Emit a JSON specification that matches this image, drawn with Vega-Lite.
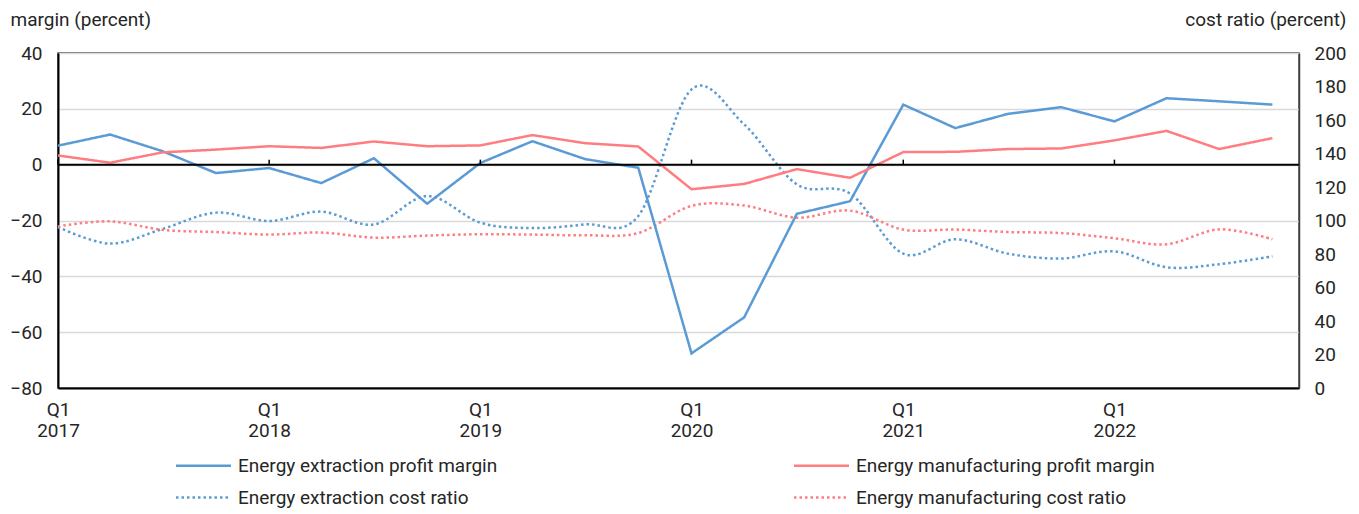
{
  "$schema": "https://vega.github.io/schema/vega-lite/v6.json",
  "width": 1241,
  "height": 335,
  "autosize": "none",
  "padding": {"left": 58, "top": 53, "right": 60, "bottom": 126},
  "background": "white",
  "config": {
    "font": "Roboto",
    "view": {"stroke": "#404040", "strokeWidth": 1.5},
    "axis": {"labelFont": "Roboto", "labelFontSize": 19, "labelColor": "#262626", "titleFont": "Roboto", "titleFontSize": 19, "titleFontWeight": "normal", "titleColor": "#262626"},
    "legend": {"labelFont": "Roboto", "labelFontSize": 19, "labelColor": "#262626", "labelLimit": 0}
  },
  "data": {
    "values": [
      {"date": "2017/01/01", "series": "Energy extraction profit margin", "value": 6.8},
      {"date": "2017/04/01", "series": "Energy extraction profit margin", "value": 10.8},
      {"date": "2017/07/01", "series": "Energy extraction profit margin", "value": 4.8},
      {"date": "2017/10/01", "series": "Energy extraction profit margin", "value": -3.0},
      {"date": "2018/01/01", "series": "Energy extraction profit margin", "value": -1.2},
      {"date": "2018/04/01", "series": "Energy extraction profit margin", "value": -6.6},
      {"date": "2018/07/01", "series": "Energy extraction profit margin", "value": 2.3},
      {"date": "2018/10/01", "series": "Energy extraction profit margin", "value": -14.0},
      {"date": "2019/01/01", "series": "Energy extraction profit margin", "value": 0.6},
      {"date": "2019/04/01", "series": "Energy extraction profit margin", "value": 8.4},
      {"date": "2019/07/01", "series": "Energy extraction profit margin", "value": 2.0},
      {"date": "2019/10/01", "series": "Energy extraction profit margin", "value": -1.1},
      {"date": "2020/01/01", "series": "Energy extraction profit margin", "value": -67.6},
      {"date": "2020/04/01", "series": "Energy extraction profit margin", "value": -54.7},
      {"date": "2020/07/01", "series": "Energy extraction profit margin", "value": -17.6},
      {"date": "2020/10/01", "series": "Energy extraction profit margin", "value": -13.1},
      {"date": "2021/01/01", "series": "Energy extraction profit margin", "value": 21.5},
      {"date": "2021/04/01", "series": "Energy extraction profit margin", "value": 13.1},
      {"date": "2021/07/01", "series": "Energy extraction profit margin", "value": 18.2},
      {"date": "2021/10/01", "series": "Energy extraction profit margin", "value": 20.6},
      {"date": "2022/01/01", "series": "Energy extraction profit margin", "value": 15.5},
      {"date": "2022/04/01", "series": "Energy extraction profit margin", "value": 23.8},
      {"date": "2022/07/01", "series": "Energy extraction profit margin", "value": 22.7},
      {"date": "2022/10/01", "series": "Energy extraction profit margin", "value": 21.5},
      {"date": "2017/01/01", "series": "Energy manufacturing profit margin", "value": 3.3},
      {"date": "2017/04/01", "series": "Energy manufacturing profit margin", "value": 0.7},
      {"date": "2017/07/01", "series": "Energy manufacturing profit margin", "value": 4.4},
      {"date": "2017/10/01", "series": "Energy manufacturing profit margin", "value": 5.4},
      {"date": "2018/01/01", "series": "Energy manufacturing profit margin", "value": 6.6},
      {"date": "2018/04/01", "series": "Energy manufacturing profit margin", "value": 6.0},
      {"date": "2018/07/01", "series": "Energy manufacturing profit margin", "value": 8.3},
      {"date": "2018/10/01", "series": "Energy manufacturing profit margin", "value": 6.6},
      {"date": "2019/01/01", "series": "Energy manufacturing profit margin", "value": 6.9},
      {"date": "2019/04/01", "series": "Energy manufacturing profit margin", "value": 10.6},
      {"date": "2019/07/01", "series": "Energy manufacturing profit margin", "value": 7.7},
      {"date": "2019/10/01", "series": "Energy manufacturing profit margin", "value": 6.5},
      {"date": "2020/01/01", "series": "Energy manufacturing profit margin", "value": -8.8},
      {"date": "2020/04/01", "series": "Energy manufacturing profit margin", "value": -6.9},
      {"date": "2020/07/01", "series": "Energy manufacturing profit margin", "value": -1.6},
      {"date": "2020/10/01", "series": "Energy manufacturing profit margin", "value": -4.7},
      {"date": "2021/01/01", "series": "Energy manufacturing profit margin", "value": 4.5},
      {"date": "2021/04/01", "series": "Energy manufacturing profit margin", "value": 4.6},
      {"date": "2021/07/01", "series": "Energy manufacturing profit margin", "value": 5.6},
      {"date": "2021/10/01", "series": "Energy manufacturing profit margin", "value": 5.8},
      {"date": "2022/01/01", "series": "Energy manufacturing profit margin", "value": 8.7},
      {"date": "2022/04/01", "series": "Energy manufacturing profit margin", "value": 12.1},
      {"date": "2022/07/01", "series": "Energy manufacturing profit margin", "value": 5.6},
      {"date": "2022/10/01", "series": "Energy manufacturing profit margin", "value": 9.5},
      {"date": "2017/01/01", "series": "Energy extraction cost ratio", "value": 96.1},
      {"date": "2017/04/01", "series": "Energy extraction cost ratio", "value": 86.2},
      {"date": "2017/07/01", "series": "Energy extraction cost ratio", "value": 95.0},
      {"date": "2017/10/01", "series": "Energy extraction cost ratio", "value": 104.7},
      {"date": "2018/01/01", "series": "Energy extraction cost ratio", "value": 99.7},
      {"date": "2018/04/01", "series": "Energy extraction cost ratio", "value": 105.3},
      {"date": "2018/07/01", "series": "Energy extraction cost ratio", "value": 97.6},
      {"date": "2018/10/01", "series": "Energy extraction cost ratio", "value": 114.6},
      {"date": "2019/01/01", "series": "Energy extraction cost ratio", "value": 98.7},
      {"date": "2019/04/01", "series": "Energy extraction cost ratio", "value": 95.5},
      {"date": "2019/07/01", "series": "Energy extraction cost ratio", "value": 97.7},
      {"date": "2019/10/01", "series": "Energy extraction cost ratio", "value": 102.7},
      {"date": "2020/01/01", "series": "Energy extraction cost ratio", "value": 178.3},
      {"date": "2020/04/01", "series": "Energy extraction cost ratio", "value": 157.4},
      {"date": "2020/07/01", "series": "Energy extraction cost ratio", "value": 121.6},
      {"date": "2020/10/01", "series": "Energy extraction cost ratio", "value": 116.1},
      {"date": "2021/01/01", "series": "Energy extraction cost ratio", "value": 80.2},
      {"date": "2021/04/01", "series": "Energy extraction cost ratio", "value": 88.8},
      {"date": "2021/07/01", "series": "Energy extraction cost ratio", "value": 80.2},
      {"date": "2021/10/01", "series": "Energy extraction cost ratio", "value": 77.3},
      {"date": "2022/01/01", "series": "Energy extraction cost ratio", "value": 81.6},
      {"date": "2022/04/01", "series": "Energy extraction cost ratio", "value": 72.1},
      {"date": "2022/07/01", "series": "Energy extraction cost ratio", "value": 73.9},
      {"date": "2022/10/01", "series": "Energy extraction cost ratio", "value": 78.6},
      {"date": "2017/01/01", "series": "Energy manufacturing cost ratio", "value": 96.5},
      {"date": "2017/04/01", "series": "Energy manufacturing cost ratio", "value": 99.5},
      {"date": "2017/07/01", "series": "Energy manufacturing cost ratio", "value": 94.4},
      {"date": "2017/10/01", "series": "Energy manufacturing cost ratio", "value": 93.1},
      {"date": "2018/01/01", "series": "Energy manufacturing cost ratio", "value": 91.6},
      {"date": "2018/04/01", "series": "Energy manufacturing cost ratio", "value": 92.8},
      {"date": "2018/07/01", "series": "Energy manufacturing cost ratio", "value": 89.8},
      {"date": "2018/10/01", "series": "Energy manufacturing cost ratio", "value": 91.0},
      {"date": "2019/01/01", "series": "Energy manufacturing cost ratio", "value": 91.8},
      {"date": "2019/04/01", "series": "Energy manufacturing cost ratio", "value": 91.6},
      {"date": "2019/07/01", "series": "Energy manufacturing cost ratio", "value": 91.2},
      {"date": "2019/10/01", "series": "Energy manufacturing cost ratio", "value": 92.5},
      {"date": "2020/01/01", "series": "Energy manufacturing cost ratio", "value": 108.7},
      {"date": "2020/04/01", "series": "Energy manufacturing cost ratio", "value": 108.9},
      {"date": "2020/07/01", "series": "Energy manufacturing cost ratio", "value": 101.7},
      {"date": "2020/10/01", "series": "Energy manufacturing cost ratio", "value": 105.9},
      {"date": "2021/01/01", "series": "Energy manufacturing cost ratio", "value": 94.6},
      {"date": "2021/04/01", "series": "Energy manufacturing cost ratio", "value": 94.6},
      {"date": "2021/07/01", "series": "Energy manufacturing cost ratio", "value": 93.1},
      {"date": "2021/10/01", "series": "Energy manufacturing cost ratio", "value": 92.5},
      {"date": "2022/01/01", "series": "Energy manufacturing cost ratio", "value": 89.4},
      {"date": "2022/04/01", "series": "Energy manufacturing cost ratio", "value": 85.8},
      {"date": "2022/07/01", "series": "Energy manufacturing cost ratio", "value": 94.7},
      {"date": "2022/10/01", "series": "Energy manufacturing cost ratio", "value": 88.8}
    ]
  },
  "layer": [
    {
      "transform": [{"filter": {"field": "series", "oneOf": ["Energy extraction cost ratio", "Energy manufacturing cost ratio"]}}],
      "mark": {"type": "line", "strokeWidth": 2.5, "interpolate": "cardinal", "strokeCap": "butt"},
      "encoding": {
        "x": {"field": "date", "type": "temporal", "scale": {"domain": [{"year": 2017, "month": 1, "date": 1}, {"year": 2022, "month": 11, "date": 16}], "nice": false},
          "axis": {"orient": "bottom", "title": null, "values": [{"year": 2017, "month": 1, "date": 1}, {"year": 2018, "month": 1, "date": 1}, {"year": 2019, "month": 1, "date": 1}, {"year": 2020, "month": 1, "date": 1}, {"year": 2021, "month": 1, "date": 1}, {"year": 2022, "month": 1, "date": 1}], "labelExpr": "['Q1', timeFormat(datum.value, '%Y')]", "ticks": false, "tickSize": 0, "grid": false, "labelPadding": 12, "labelLineHeight": 21, "labelBaseline": "top", "labelAlign": "center", "labelFlush": false, "labelBound": false, "labelOverlap": false, "domainColor": "black", "domainWidth": 2}},
        "y": {"field": "value", "type": "quantitative", "scale": {"domain": [0, 200], "nice": false, "zero": false},
          "axis": {"orient": "right", "title": "cost ratio (percent)", "values": [0, 20, 40, 60, 80, 100, 120, 140, 160, 180, 200], "grid": false, "ticks": false, "tickSize": 0, "labelPadding": 15, "domainColor": "#404040", "domainWidth": 1.5, "titleAngle": 0, "titleAlign": "right", "titleBaseline": "alphabetic", "titleX": 47, "titleY": -28}},
        "color": {"field": "series", "type": "nominal", "scale": {"domain": ["Energy extraction profit margin", "Energy extraction cost ratio", "Energy manufacturing profit margin", "Energy manufacturing cost ratio"], "range": ["#5B9BD5", "#5B9BD5", "#FF7C80", "#FF7C80"]},
          "legend": {"title": null, "orient": "none", "legendX": 136, "legendY": 403, "columns": 2, "symbolType": "M-5,0H5", "symbolSize": 121, "symbolStrokeWidth": 2.5, "labelOffset": 25, "rowPadding": 12, "columnPadding": 291, "labelLimit": 0}},
        "strokeDash": {"field": "series", "type": "nominal", "scale": {"domain": ["Energy extraction profit margin", "Energy extraction cost ratio", "Energy manufacturing profit margin", "Energy manufacturing cost ratio"], "range": [[1, 0], [2.5, 3], [1, 0], [2.5, 3]]},
          "legend": {"title": null, "orient": "none", "legendX": 136, "legendY": 403, "columns": 2, "symbolType": "M-5,0H5", "symbolSize": 121, "symbolStrokeWidth": 2.5, "labelOffset": 25, "rowPadding": 12, "columnPadding": 291, "labelLimit": 0}}
      }
    },
    {
      "layer": [
        {
          "transform": [{"filter": {"field": "series", "oneOf": ["Energy extraction profit margin", "Energy manufacturing profit margin"]}}],
          "mark": {"type": "line", "strokeWidth": 2.5},
          "encoding": {
            "x": {"field": "date", "type": "temporal", "scale": {"domain": [{"year": 2017, "month": 1, "date": 1}, {"year": 2022, "month": 11, "date": 16}], "nice": false},
              "axis": {"orient": "bottom", "title": null, "values": [{"year": 2017, "month": 1, "date": 1}, {"year": 2018, "month": 1, "date": 1}, {"year": 2019, "month": 1, "date": 1}, {"year": 2020, "month": 1, "date": 1}, {"year": 2021, "month": 1, "date": 1}, {"year": 2022, "month": 1, "date": 1}], "labelExpr": "['Q1', timeFormat(datum.value, '%Y')]", "ticks": false, "tickSize": 0, "grid": false, "labelPadding": 12, "labelLineHeight": 21, "labelBaseline": "top", "labelAlign": "center", "labelFlush": false, "labelBound": false, "labelOverlap": false, "domainColor": "black", "domainWidth": 2}},
            "y": {"field": "value", "type": "quantitative", "scale": {"domain": [-80, 40], "nice": false, "zero": false},
              "axis": {"orient": "left", "title": "margin (percent)", "values": [-80, -60, -40, -20, 0, 20, 40], "grid": true, "gridColor": "#d9d9d9", "gridWidth": 1.5, "ticks": false, "tickSize": 0, "labelPadding": 16, "domainColor": "black", "domainWidth": 2, "titleAngle": 0, "titleAlign": "left", "titleBaseline": "alphabetic", "titleX": -48, "titleY": -28}},
            "color": {"field": "series", "type": "nominal", "scale": {"domain": ["Energy extraction profit margin", "Energy extraction cost ratio", "Energy manufacturing profit margin", "Energy manufacturing cost ratio"], "range": ["#5B9BD5", "#5B9BD5", "#FF7C80", "#FF7C80"]},
              "legend": {"title": null, "orient": "none", "legendX": 136, "legendY": 403, "columns": 2, "symbolType": "M-5,0H5", "symbolSize": 121, "symbolStrokeWidth": 2.5, "labelOffset": 25, "rowPadding": 12, "columnPadding": 291, "labelLimit": 0}},
            "strokeDash": {"field": "series", "type": "nominal", "scale": {"domain": ["Energy extraction profit margin", "Energy extraction cost ratio", "Energy manufacturing profit margin", "Energy manufacturing cost ratio"], "range": [[1, 0], [2.5, 3], [1, 0], [2.5, 3]]},
              "legend": {"title": null, "orient": "none", "legendX": 136, "legendY": 403, "columns": 2, "symbolType": "M-5,0H5", "symbolSize": 121, "symbolStrokeWidth": 2.5, "labelOffset": 25, "rowPadding": 12, "columnPadding": 291, "labelLimit": 0}}
          }
        },
        {
          "data": {"values": [{"line": "zero"}]},
          "mark": {"type": "rule", "color": "black", "strokeWidth": 2},
          "encoding": {"y": {"datum": 0}}
        },
        {
          "transform": [{"filter": "datum.series == 'Energy extraction profit margin' && month(datum.date) == 0"}],
          "mark": {"type": "rule", "color": "black", "strokeWidth": 1.5},
          "encoding": {
            "x": {"field": "date", "type": "temporal", "scale": {"domain": [{"year": 2017, "month": 1, "date": 1}, {"year": 2022, "month": 11, "date": 16}], "nice": false},
              "axis": {"orient": "bottom", "title": null, "values": [{"year": 2017, "month": 1, "date": 1}, {"year": 2018, "month": 1, "date": 1}, {"year": 2019, "month": 1, "date": 1}, {"year": 2020, "month": 1, "date": 1}, {"year": 2021, "month": 1, "date": 1}, {"year": 2022, "month": 1, "date": 1}], "labelExpr": "['Q1', timeFormat(datum.value, '%Y')]", "ticks": false, "tickSize": 0, "grid": false, "labelPadding": 12, "labelLineHeight": 21, "labelBaseline": "top", "labelAlign": "center", "labelFlush": false, "labelBound": false, "labelOverlap": false, "domainColor": "black", "domainWidth": 2}},
            "y": {"datum": 0},
            "y2": {"datum": 1.8}
          }
        }
      ]
    }
  ],
  "resolve": {"scale": {"y": "independent"}}
}
